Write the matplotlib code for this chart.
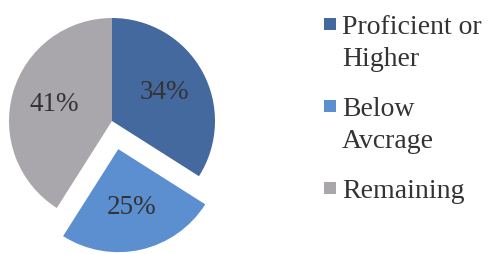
import matplotlib.pyplot as plt
from matplotlib.patches import Rectangle

# Data
labels = ['Proficient or\nHigher', 'Below\nAvcrage', 'Remaining']
values = [34, 25, 41]
colors = ['#44699e', '#5b8fd0', '#a9a7ab']
explode = [0, 0.28, 0]

plt.rcParams['font.family'] = ['Liberation Serif', 'DejaVu Serif']

W, H = 489, 254
fig = plt.figure(figsize=(W / 100, H / 100), dpi=100)

# pie axes: centre (112, 121) px from top-left, radius 103 px
cx, cy, r = 112, 121, 103
ax = fig.add_axes([(cx - r) / W, (H - cy - r) / H, 2 * r / W, 2 * r / H])
wedges, texts, autotexts = ax.pie(values, colors=colors, explode=explode,
                                  startangle=90, counterclock=False,
                                  autopct='%d%%', pctdistance=0.58,
                                  textprops=dict(fontsize=19.5, color='#333333'))
for w in wedges:
    w.set_clip_on(False)
ax.set_xlim(-1, 1)
ax.set_ylim(-1, 1)
ax.set_aspect('equal')
ax.axis('off')

# legend drawn by hand so the square lines up with the first text line
line_h = 32
entry_gap = 18
y = 34  # baseline of first line, px from top
for lab, col in zip(labels, colors):
    lines = lab.split('\n')
    fig.patches.append(Rectangle((324 / W, (H - y + 4) / H), 12 / W, 12 / H,
                                 transform=fig.transFigure, facecolor=col,
                                 edgecolor='none'))
    for i, ln in enumerate(lines):
        fig.text(342 / W, (H - (y + i * line_h)) / H, ln, fontsize=20,
                 color='#333333', va='baseline', ha='left')
    y += len(lines) * line_h + entry_gap

fig.savefig('out.png', dpi=100)
